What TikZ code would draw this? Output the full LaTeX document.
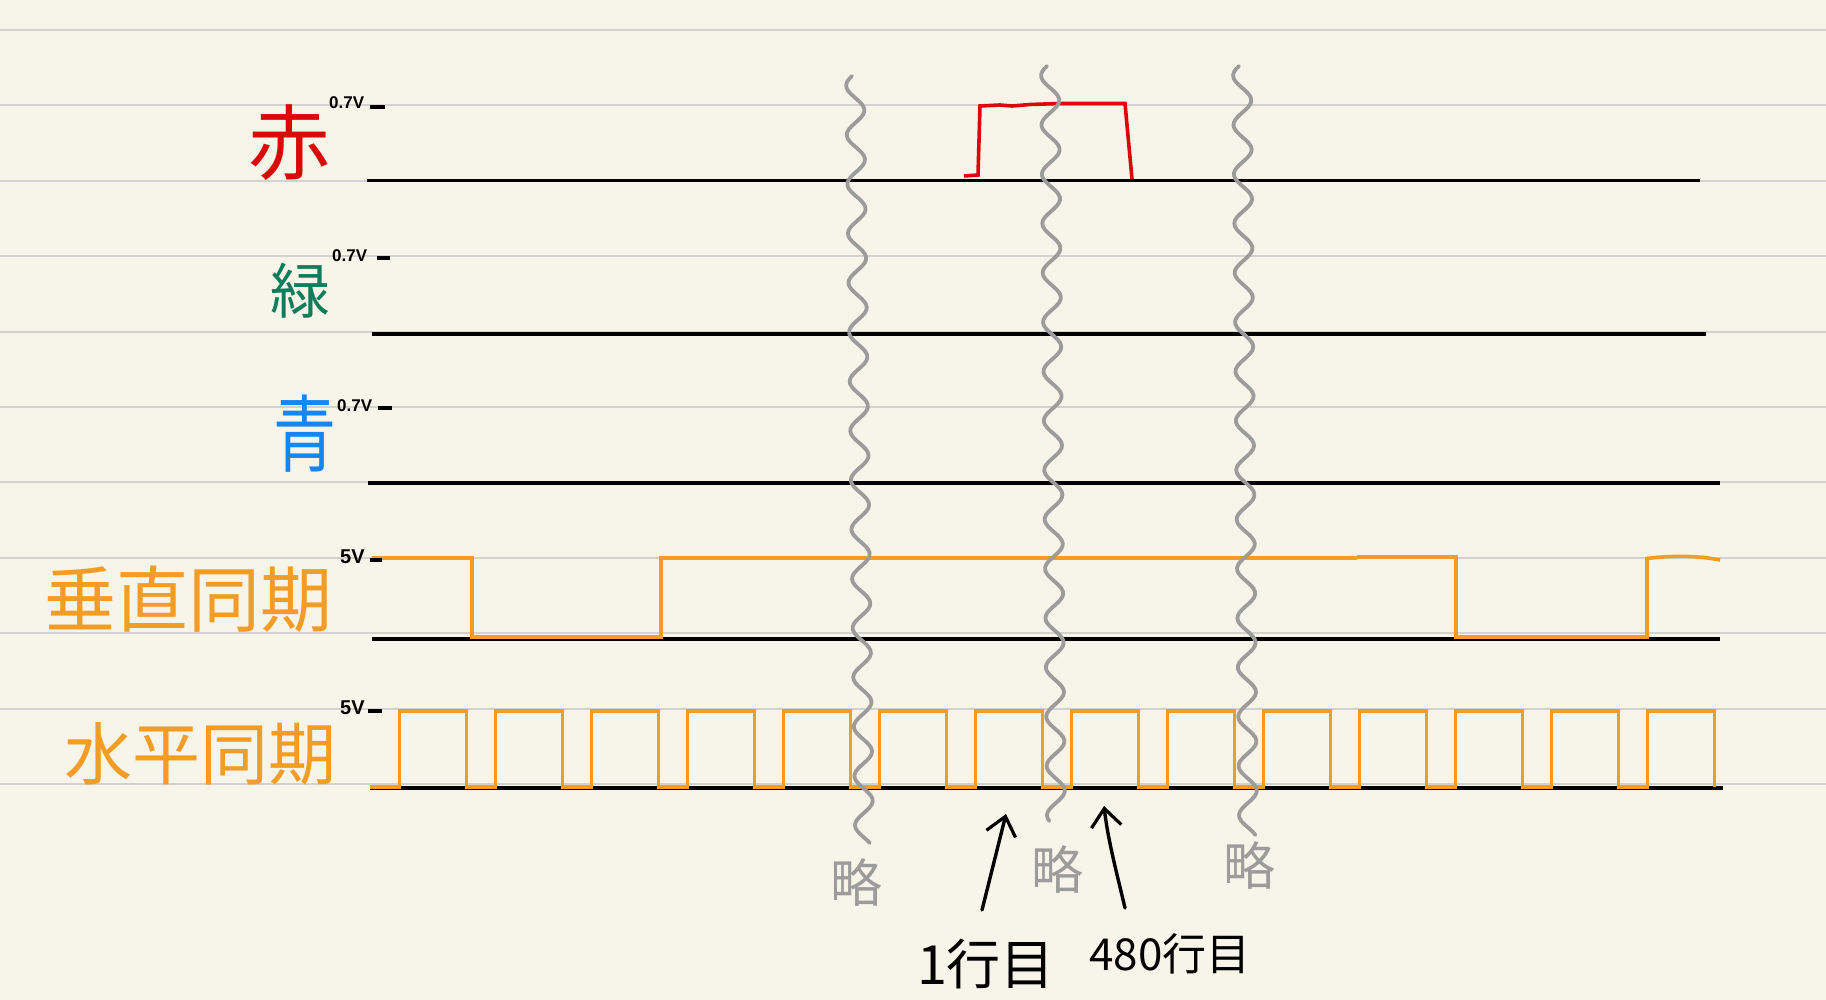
\documentclass[tikz,border=0pt]{standalone}
\usepackage{fontspec}
\newfontfamily\jp{Noto Sans CJK JP}
\setsansfont{Liberation Sans}
\usetikzlibrary{arrows.meta}
\definecolor{paper}{HTML}{F7F5EA}
\definecolor{rule}{HTML}{D2D2D0}
\definecolor{sigred}{HTML}{DA0A0A}
\definecolor{siggreen}{HTML}{0F7D5C}
\definecolor{sigblue}{HTML}{1487F5}
\definecolor{sigorange}{HTML}{F39D26}
\definecolor{wavegray}{HTML}{9C9C9C}
\tikzset{
  ruleline/.style={draw=rule, line width=2pt},
  baseline/.style={draw=black, line width=3.4pt},
  sigline/.style={line width=3.6pt, line join=miter},
  waveline/.style={draw=wavegray, line width=3.8pt, line cap=round, line join=round},
  volt/.style={inner sep=0pt, font=\sffamily\bfseries\fontsize{17}{17}\selectfont, text=black},
  voltfive/.style={inner sep=0pt, font=\sffamily\bfseries\fontsize{20}{20}\selectfont, text=black},
  voltdash/.style={draw=black, line width=3.4pt},
  biglabel/.style={inner sep=0pt, font=\jp},
  omit/.style={inner sep=0pt, text=wavegray, font=\jp\fontsize{52}{52}\selectfont},
  rowlabel/.style={inner sep=0pt, text=black, font=\jp},
  arr/.style={draw=black, line width=3.4pt, line cap=round, -{Straight Barb[length=18pt,width=30pt,line width=3.2pt]}}
}
\begin{document}
\begin{tikzpicture}[x=1pt,y=-1pt]
\useasboundingbox (0,0) rectangle (1826,1000);
\fill[paper] (0,0) rectangle (1826,1000);
% ruled paper lines
\foreach \k in {0,...,10} {
  \draw[ruleline] (0,{30+75.4*\k}) -- (1826,{30+75.4*\k});
}
% baselines
\draw[baseline] (367,180.5) -- (1700,180.5);
\draw[baseline] (372,334) -- (1706,334);
\draw[baseline] (368,483) -- (1720,483);
\draw[baseline] (372,639) -- (1720,639);
\draw[baseline] (370,788) -- (1723,788);
% red pulse
\draw[sigline, draw=sigred] (964,176) -- (978,175) -- (980,106) -- (1000,105) -- (1012,106) -- (1030,104.5) -- (1060,103.5) -- (1125,103.5) -- (1132,179);
% vertical sync
\draw[sigline, draw=sigorange] (372,558) -- (472,558) -- (472,637) -- (661,637) -- (661,558) -- (1356,558) -- (1358,557) -- (1456,557) -- (1456,637) -- (1647,637) -- (1647,558.5) .. controls (1675,555) and (1700,556) .. (1720,560);
% horizontal sync
\draw[sigline, draw=sigorange] (370,787)
  \foreach \k in {0,...,13} { -- ({399.5+96*\k},787) -- ({399.5+96*\k},711) -- ({466.5+96*\k},711) -- ({466.5+96*\k},787) };
% wavy omission lines
\draw[waveline] plot[domain=76:843, samples=260, variable=\t] ({855 + (\t-76)*0.012 + 9*sin((\t-76)*7.3 + 200)}, \t);
\draw[waveline] plot[domain=66:821, samples=260, variable=\t] ({1050 + (\t-66)*0.008 + 9*sin((\t-66)*7.3 + 200)}, \t);
\draw[waveline] plot[domain=66:835, samples=260, variable=\t] ({1242 + (\t-66)*0.008 + 9*sin((\t-66)*7.3 + 200)}, \t);
% voltage labels
\node[volt, anchor=west] (vr) at (329,103) {0.7V};
\draw[voltdash] (370,107) -- (385,107);
\node[volt, anchor=west] (vg) at (332,256) {0.7V};
\draw[voltdash] (377,258) -- (390,258);
\node[volt, anchor=west] (vb) at (337,406) {0.7V};
\draw[voltdash] (378,408) -- (392,408);
\node[voltfive, anchor=west] (vv) at (340,557) {5V};
\draw[voltdash] (370,560) -- (382,560);
\node[voltfive, anchor=west] (vh) at (340,708) {5V};
\draw[voltdash] (368,711) -- (382,711);
% channel labels
\node[biglabel, text=sigred, font=\jp\fontsize{82}{82}\selectfont] (red) at (289,143) {赤};
\node[biglabel, text=siggreen, font=\jp\fontsize{60}{60}\selectfont] (green) at (300,291) {緑};
\node[biglabel, text=sigblue, font=\jp\fontsize{84}{84}\selectfont, xscale=0.75] (blue) at (305,434) {青};
\node[biglabel, text=sigorange, font=\jp\fontsize{72}{72}\selectfont] (vsync) at (188,599) {垂直同期};
\node[biglabel, text=sigorange, font=\jp\fontsize{68}{68}\selectfont] (hsync) at (200,754) {水平同期};
% omission labels
\node[omit] (om1) at (856,882) {略};
\node[omit] (om2) at (1057,869) {略};
\node[omit] (om3) at (1249,865) {略};
% row labels and arrows
\node[rowlabel, font=\jp\fontsize{54}{54}\selectfont] (row1) at (986,964) {1行目};
\node[rowlabel, font=\jp\fontsize{44}{44}\selectfont] (row480) at (1170,954) {480行目};
\coordinate (t1) at (982,910);
\coordinate (h1) at (1006,814);
\coordinate (t480) at (1125,908);
\coordinate (h480) at (1104,806);
\draw[arr] (t1) -- (h1);
\draw[arr] (t480) .. controls (1116,870) and (1108,840) .. (h480);
\end{tikzpicture}
\end{document}
